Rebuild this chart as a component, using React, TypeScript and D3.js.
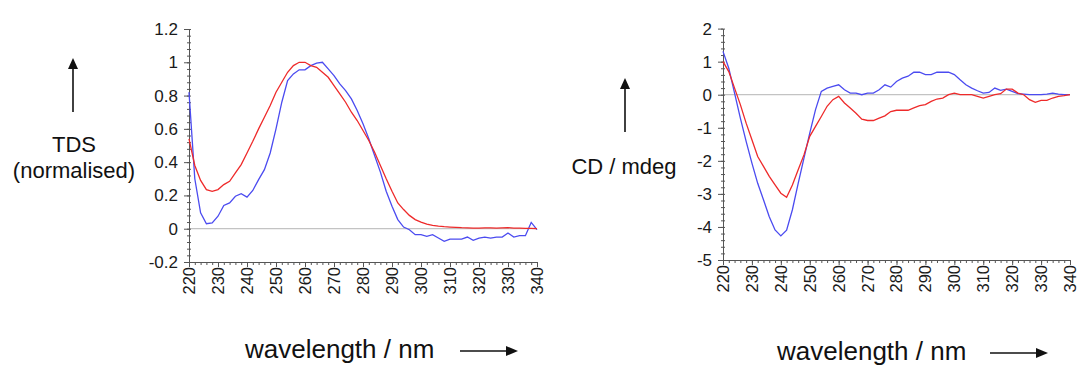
import React, { useEffect, useRef } from "react";
import * as d3 from "d3";

// wavelength axis (nm), 2 nm steps
const wavelengths = [
  220, 222, 224, 226, 228, 230, 232, 234, 236, 238, 240, 242, 244, 246, 248, 250,
  252, 254, 256, 258, 260, 262, 264, 266, 268, 270, 272, 274, 276, 278, 280, 282,
  284, 286, 288, 290, 292, 294, 296, 298, 300, 302, 304, 306, 308, 310, 312, 314,
  316, 318, 320, 322, 324, 326, 328, 330, 332, 334, 336, 338, 340,
];

// left panel: TDS (normalised)
const tdsRed = [
  0.54, 0.38, 0.29, 0.235, 0.225, 0.235, 0.265, 0.285, 0.335, 0.385, 0.455, 0.525, 0.6, 0.67, 0.74, 0.82,
  0.88, 0.94, 0.98, 1.0, 1.0, 0.98, 0.97, 0.94, 0.91, 0.86, 0.81, 0.76, 0.7, 0.65, 0.59, 0.53,
  0.46, 0.38, 0.3, 0.225, 0.155, 0.115, 0.08, 0.055, 0.04, 0.028, 0.02, 0.015, 0.012, 0.01, 0.008, 0.006,
  0.005, 0.004, 0.004, 0.005, 0.005, 0.004, 0.005, 0.006, 0.004, 0.003, 0.002, 0.002, 0.0,
];
const tdsBlue = [
  0.82, 0.3, 0.095, 0.03, 0.035, 0.075, 0.14, 0.155, 0.195, 0.21, 0.19, 0.23, 0.295, 0.355, 0.455, 0.6,
  0.76, 0.89, 0.93, 0.955, 0.955, 0.98, 0.995, 1.0, 0.96, 0.92, 0.87, 0.83, 0.78, 0.71, 0.63, 0.54,
  0.44, 0.34, 0.225, 0.135, 0.055, 0.01, -0.006, -0.036, -0.036, -0.046, -0.036, -0.056, -0.076, -0.062, -0.062, -0.062,
  -0.05, -0.07, -0.056, -0.05, -0.056, -0.05, -0.05, -0.026, -0.05, -0.042, -0.042, 0.038, -0.006,
];
const tdsTicks = [-0.2, 0, 0.2, 0.4, 0.6, 0.8, 1, 1.2];

// right panel: CD / mdeg
const cdRed = [
  1.0, 0.7, 0.2, -0.3, -0.86, -1.36, -1.87, -2.17, -2.47, -2.73, -2.98, -3.1, -2.73, -2.27, -1.82, -1.26,
  -0.96, -0.66, -0.35, -0.15, -0.05, -0.25, -0.4, -0.56, -0.74, -0.78, -0.78, -0.71, -0.64, -0.51, -0.47, -0.47,
  -0.47, -0.4, -0.33, -0.3, -0.2, -0.13, -0.1, 0, 0.05, 0, 0, 0, -0.05, -0.1, -0.05, 0,
  0.03, 0.17, 0.17, 0.05, 0, -0.15, -0.23, -0.17, -0.17, -0.1, -0.05, -0.03, 0,
];
const cdBlue = [
  1.31, 0.8, 0.05, -0.71, -1.41, -2.07, -2.68, -3.18, -3.69, -4.09, -4.27, -4.1, -3.48, -2.68, -1.92, -1.16,
  -0.45, 0.1, 0.2, 0.25, 0.3, 0.15, 0.05, 0.05, 0, 0.05, 0.05, 0.15, 0.3, 0.23, 0.4, 0.5,
  0.56, 0.68, 0.68, 0.61, 0.61, 0.68, 0.68, 0.68, 0.61, 0.45, 0.3, 0.2, 0.12, 0.05, 0.07, 0.2,
  0.13, 0.17, 0.1, 0.03, 0.02, 0, 0, 0, 0.02, 0.05, 0.02, 0, 0,
];
const cdTicks = [-5, -4, -3, -2, -1, 0, 1, 2];

const xTicks = [220, 230, 240, 250, 260, 270, 280, 290, 300, 310, 320, 330, 340];

const FONT = "'Liberation Sans', Arial, Helvetica, sans-serif";
const RED = "#ee2a2a";
const BLUE = "#4b4bf0";
const AXIS = "#555";

type Panel = {
  left: number;
  right: number;
  top: number;
  bottom: number;
  yDomain: [number, number];
  yTicks: number[];
  yMinor: number;
  red: number[];
  blue: number[];
};

function drawPanel(svg: d3.Selection<SVGGElement, unknown, null, undefined>, p: Panel) {
  const x = d3.scaleLinear().domain([220, 340]).range([p.left, p.right]);
  const y = d3.scaleLinear().domain(p.yDomain).range([p.bottom, p.top]);
  const g = svg.append("g");

  // zero line
  g.append("line")
    .attr("x1", x(220))
    .attr("x2", x(340))
    .attr("y1", y(0))
    .attr("y2", y(0))
    .attr("stroke", "#b4b4b4")
    .attr("stroke-width", 1);

  // minor ticks
  const yMinor = d3.range(p.yDomain[0], p.yDomain[1] + 1e-9, p.yMinor);
  g.append("g")
    .attr("transform", `translate(${p.left},0)`)
    .call(d3.axisLeft(y).tickValues(yMinor).tickSize(2).tickSizeOuter(0).tickFormat(() => ""))
    .call((a) => a.select(".domain").remove())
    .selectAll("line")
    .attr("stroke", AXIS)
    .attr("x2", 2)
    .attr("x1", -2);

  const xMinor = d3.range(220, 341, 2);
  g.append("g")
    .attr("transform", `translate(0,${p.bottom})`)
    .call(d3.axisBottom(x).tickValues(xMinor).tickSize(3).tickSizeOuter(0).tickFormat(() => ""))
    .call((a) => a.select(".domain").remove())
    .selectAll("line")
    .attr("stroke", AXIS);

  // y axis
  g.append("g")
    .attr("transform", `translate(${p.left},0)`)
    .call(d3.axisLeft(y).tickValues(p.yTicks).tickSize(5).tickSizeOuter(0).tickPadding(6).tickFormat((d) => String(+(+d).toFixed(1))))
    .call((a) => a.select(".domain").attr("stroke", AXIS))
    .call((a) => a.selectAll("line").attr("stroke", AXIS))
    .selectAll("text")
    .attr("font-family", FONT)
    .attr("font-size", 17)
    .attr("fill", "#1a1a1a");

  // x axis, labels rotated to read upward
  g.append("g")
    .attr("transform", `translate(0,${p.bottom})`)
    .call(d3.axisBottom(x).tickValues(xTicks).tickSize(5).tickSizeOuter(0).tickFormat((d) => String(d)))
    .call((a) => a.select(".domain").attr("stroke", AXIS))
    .call((a) => a.selectAll("line").attr("stroke", AXIS))
    .selectAll("text")
    .attr("font-family", FONT)
    .attr("font-size", 16.5)
    .attr("fill", "#1a1a1a")
    .attr("transform", "rotate(-90)")
    .attr("text-anchor", "end")
    .attr("x", -5)
    .attr("y", 0)
    .attr("dy", "0.33em");

  const line = d3
    .line<number>()
    .x((_, i) => x(wavelengths[i]))
    .y((d) => y(d));

  g.append("path").attr("d", line(p.blue)).attr("fill", "none").attr("stroke", BLUE).attr("stroke-width", 1.3);
  g.append("path").attr("d", line(p.red)).attr("fill", "none").attr("stroke", RED).attr("stroke-width", 1.3);
}

function UpArrow({ x, y1, y2 }: { x: number; y1: number; y2: number }) {
  return (
    <g>
      <line x1={x} x2={x} y1={y1 + 8} y2={y2} stroke="#111" strokeWidth={1.6} />
      <path d={`M${x},${y1} L${x - 5},${y1 + 11} L${x + 5},${y1 + 11} Z`} fill="#111" />
    </g>
  );
}

function RightArrow({ x1, x2, y }: { x1: number; x2: number; y: number }) {
  return (
    <g>
      <line x1={x1} x2={x2 - 8} y1={y} y2={y} stroke="#111" strokeWidth={1.6} />
      <path d={`M${x2},${y} L${x2 - 12},${y - 5} L${x2 - 12},${y + 5} Z`} fill="#111" />
    </g>
  );
}

export default function App() {
  const plotRef = useRef<SVGGElement>(null);

  useEffect(() => {
    if (!plotRef.current) return;
    const root = d3.select(plotRef.current);
    root.selectAll("*").remove();

    drawPanel(root, {
      left: 189,
      right: 537,
      top: 29,
      bottom: 262,
      yDomain: [-0.2, 1.2],
      yTicks: tdsTicks,
      yMinor: 0.04,
      red: tdsRed,
      blue: tdsBlue,
    });

    drawPanel(root, {
      left: 723,
      right: 1070,
      top: 28.6,
      bottom: 260,
      yDomain: [-5, 2],
      yTicks: cdTicks,
      yMinor: 0.2,
      red: cdRed,
      blue: cdBlue,
    });
  }, []);

  return (
    <svg
      width={1079}
      height={365}
      style={{ position: "absolute", left: 0, top: 0, background: "#fff" }}
      fontFamily={FONT}
    >
      <rect width={1079} height={365} fill="#fff" />
      <g ref={plotRef} />

      {/* left y label */}
      <UpArrow x={73} y1={58} y2={112} />
      <text x={74} y={152} textAnchor="middle" fontSize={22} fill="#111">TDS</text>
      <text x={74} y={178} textAnchor="middle" fontSize={22} fill="#111">(normalised)</text>

      {/* right y label */}
      <UpArrow x={625} y1={78} y2={132} />
      <text x={624} y={174} textAnchor="middle" fontSize={22} fill="#111">CD / mdeg</text>

      {/* x labels */}
      <text x={245} y={358} fontSize={26} fill="#111">wavelength / nm</text>
      <RightArrow x1={460} x2={518} y={351} />
      <text x={777} y={360} fontSize={26} fill="#111">wavelength / nm</text>
      <RightArrow x1={990} x2={1048} y={353} />
    </svg>
  );
}
